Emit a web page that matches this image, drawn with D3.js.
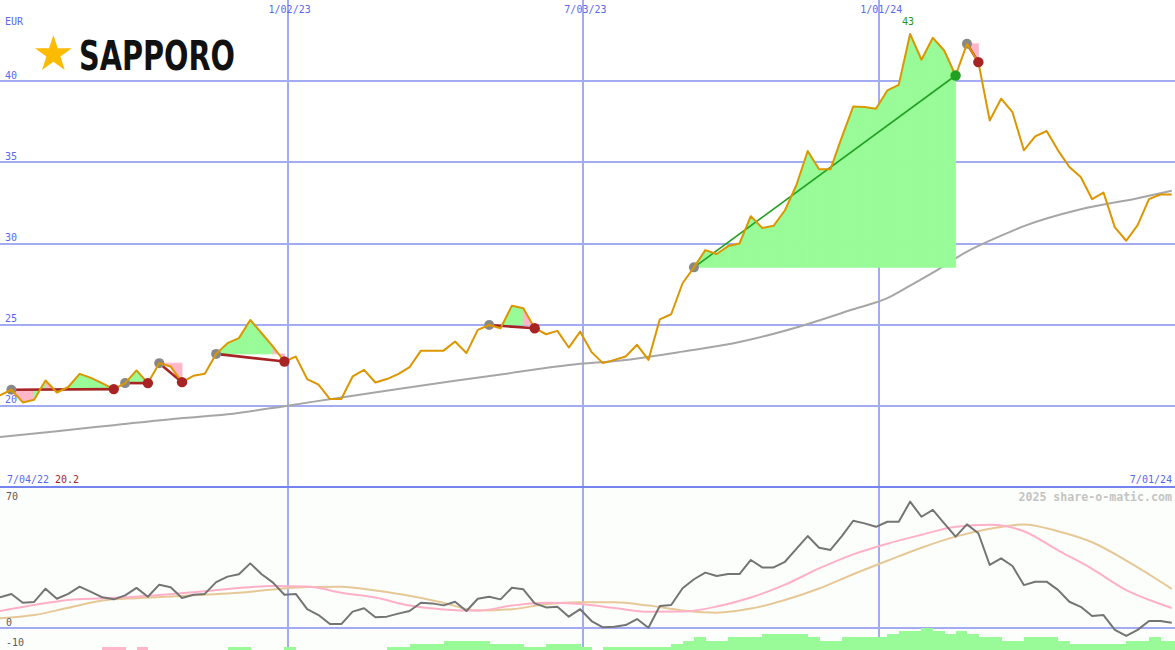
<!DOCTYPE html>
<html><head><meta charset="utf-8">
<script src="https://cdn.jsdelivr.net/npm/d3@7"></script>
<style>
html,body{margin:0;padding:0;background:#fff;}
svg{display:block;}
</style></head><body>
<svg id="chart" width="1175" height="650"></svg>
<script>
// ---------- data ----------
const currency = "EUR";
const companyName = "SAPPORO";
const watermark = "2025 share-o-matic.com";
const firstWeek = "2022-07-09";
const domainStart = "2022-07-09";
const domainEnd = "2024-07-01";
const rangeLabels = ["7/04/22", "7/01/24"];
const gridDates = ["2023-01-02", "2023-07-03", "2024-01-01"];
const gridLabels = ["1/02/23", "7/03/23", "1/01/24"];
const priceTicks = [20, 25, 30, 35, 40];
const oscTickLabels = [70, 0, -10];

// weekly closing prices (EUR)
const prices = [
  20.64, 20.99, 20.21, 20.37, 21.56, 20.82, 21.16, 21.97, 21.72, 21.38,
  21.03, 21.40, 22.18, 21.40, 22.63, 22.42, 21.46, 21.85, 21.97, 23.20,
  23.86, 24.17, 25.29, 24.47, 23.65, 22.73, 23.03, 21.65, 21.30, 20.42,
  20.42, 21.81, 22.22, 21.44, 21.65, 21.95, 22.38, 23.40, 23.40, 23.40,
  23.96, 23.25, 24.68, 24.98, 24.78, 26.17, 26.01, 24.78, 24.41, 24.62,
  23.59, 24.57, 23.31, 22.63, 22.83, 23.04, 23.76, 22.83, 25.33, 25.64,
  27.55, 28.53, 29.59, 29.35, 29.84, 30.00, 31.68, 30.96, 31.09, 32.05,
  33.59, 35.70, 34.57, 34.57, 36.55, 38.44, 38.41, 38.30, 39.43, 39.77,
  42.91, 41.32, 42.67, 41.89, 40.35, 42.30, 41.17, 37.58, 38.92, 38.09,
  35.74, 36.60, 36.93, 35.74, 34.71, 34.10, 32.73, 33.14, 30.99, 30.17,
  31.13, 32.73, 33.02, 33.02
];

// long moving average (grey)
const maWeeks  = [0, 5, 10, 15, 20, 25, 30, 35, 40, 45, 50, 55, 60, 65, 70, 75, 78, 80, 82, 85, 88, 90, 95, 100, 103];
const maValues = [18.08, 18.44, 18.81, 19.18, 19.48, 19.98, 20.52, 21.03, 21.54, 22.03, 22.51, 22.83, 23.34, 23.93, 24.83, 25.95, 26.63, 27.4, 28.2, 29.5, 30.48, 31.07, 32.11, 32.79, 33.25];

// trades
const tradeEntries = [1, 11, 14, 19, 43, 61, 85];
const tradeExits   = [10, 13, 16, 25, 47, 84, 86];
const tradeResults = ["loss", "loss", "loss", "loss", "loss", "win", "loss"];

// lower panel: momentum (dark grey), weekly
const momentum = [
  15.1, 16.8, 12.4, 12.8, 19.4, 14.4, 16.8, 20.4, 17.8, 15.1,
  14.1, 16.1, 19.8, 15.4, 21.4, 20.1, 14.8, 16.4, 16.8, 22.7,
  25.4, 26.6, 32.0, 26.6, 22.4, 16.4, 16.8, 9.2, 6.3, 1.8,
  1.8, 8.0, 9.7, 5.2, 5.5, 7.0, 8.3, 12.4, 12.1, 11.1,
  12.9, 8.3, 14.4, 15.4, 14.1, 19.9, 19.1, 12.1, 10.1, 10.4,
  5.5, 9.2, 3.3, 0.2, 0.5, 1.3, 4.3, 0.0, 10.8, 11.3,
  19.6, 24.1, 27.4, 25.7, 26.7, 26.7, 33.7, 30.0, 30.0, 32.8,
  39.2, 45.6, 39.8, 38.7, 45.6, 53.2, 51.9, 50.2, 52.7, 52.7,
  62.7, 55.2, 58.6, 51.9, 45.3, 51.4, 47.0, 31.2, 34.5, 30.7,
  21.2, 22.9, 22.9, 18.8, 12.9, 10.4, 5.8, 6.3, -1.1, -4.1,
  -1.1, 3.3, 3.3, 2.5
];

// lower panel: signal lines (sampled every 3 weeks)
const signalWeeks = [0, 3, 6, 9, 12, 15, 18, 21, 24, 27, 30, 33, 36, 39, 42, 45, 48, 51, 54, 57, 60, 63, 66, 69, 72, 75, 78, 81, 84, 87, 90, 93, 96, 99, 102, 103];
const fastSignal = [8.3, 11.3, 13.8, 14.6, 15.4, 16.7, 18.1, 19.8, 20.7, 20.5, 17.4, 15.0, 11.0, 9.1, 8.5, 11.0, 12.4, 11.8, 9.8, 7.9, 8.0, 10.5, 15.0, 21.4, 29.5, 36.5, 41.8, 46.2, 50.2, 51.2, 48.0, 38.5, 29.3, 18.7, 11.8, 9.8];
const slowSignal = [4.7, 6.3, 9.9, 13.5, 14.7, 15.5, 16.4, 17.4, 19.0, 20.2, 20.4, 18.5, 15.9, 12.3, 8.5, 9.2, 11.7, 12.6, 12.6, 11.0, 8.6, 7.5, 9.5, 13.8, 19.5, 26.6, 33.3, 39.8, 45.3, 49.2, 51.4, 48.0, 42.5, 33.4, 23.0, 19.3];

// bottom histogram levels (negative = pink)
const histLevels = [
  0, 0, 0, 0, 0, 0, 0, 0, 0, -1,
  -1, 0, -1, 0, 0, 0, 0, 0, 0, 0,
  1, 1, 0, 0, 0, 1, 0, 0, 0, 0,
  0, 0, 0, 0, 1, 1, 2, 2, 2, 3,
  3, 3, 3, 2, 2, 2, 1, 1, 2, 2,
  2, 1, 0, 1, 1, 1, 1, 1, 1, 2,
  3, 4, 3, 3, 4, 4, 4, 5, 5, 5,
  5, 4, 3, 3, 4, 4, 4, 4, 5, 6,
  6, 7, 6, 5, 6, 5, 4, 4, 3, 3,
  4, 4, 4, 3, 2, 2, 2, 2, 2, 3,
  3, 4, 3, 3
];

// ---------- drawing ----------
const W = 1175, H = 650;
const parse = d3.timeParse("%Y-%m-%d");
const week0 = parse(firstWeek);
const weekDate = i => d3.timeDay.offset(week0, 7 * i);

const x = d3.scaleTime().domain([parse(domainStart), parse(domainEnd)]).range([0, W]);
const yP = d3.scaleLinear().domain([15, 45]).range([487, 0]);
const yO = d3.scaleLinear().domain([0, 70]).range([627.7, 487]);
const yH = d3.scaleLinear().domain([0, 7]).range([650, 628]);

const svg = d3.select("#chart");
const MONO = "'DejaVu Sans Mono', 'Liberation Mono', monospace";
const GRID = "#a3acf2", LABEL = "#5a68f0";
const GREEN_FILL = "#98fb98", PINK_FILL = "#ffb6c8";
const LOSS = "#a82424", WIN = "#22a022";

svg.append("rect").attr("width", W).attr("height", H).attr("fill", "#ffffff");
svg.append("rect").attr("y", 487).attr("width", W).attr("height", H - 487).attr("fill", "#fcfefc");

// horizontal price grid
const pg = svg.append("g");
pg.selectAll("line").data(priceTicks).join("line")
  .attr("x1", 0).attr("x2", W)
  .attr("y1", d => Math.round(yP(d))).attr("y2", d => Math.round(yP(d)))
  .attr("stroke", GRID).attr("stroke-width", 2).attr("shape-rendering", "crispEdges");
pg.selectAll("text").data(priceTicks).join("text")
  .attr("x", 5).attr("y", d => yP(d) - 2.5)
  .attr("font-family", MONO).attr("font-size", 10).attr("fill", LABEL)
  .text(d => d);

// vertical date grid
const vg = svg.append("g");
const gd = gridDates.map(parse);
vg.selectAll("line").data(gd).join("line")
  .attr("x1", d => Math.round(x(d))).attr("x2", d => Math.round(x(d)))
  .attr("y1", 0).attr("y2", H)
  .attr("stroke", GRID).attr("stroke-width", 1.5).attr("shape-rendering", "crispEdges");
vg.selectAll("text").data(gd).join("text")
  .attr("x", d => x(d) + 2).attr("y", 12.5).attr("text-anchor", "middle")
  .attr("font-family", MONO).attr("font-size", 10).attr("fill", LABEL)
  .text((d, i) => gridLabels[i]);

svg.append("text").attr("x", 5).attr("y", 24.5)
  .attr("font-family", MONO).attr("font-size", 10).attr("fill", LABEL).text(currency);

// long MA
const maLine = d3.line().x((d, i) => x(weekDate(maWeeks[i]))).y(d => yP(d)).curve(d3.curveMonotoneX);
svg.append("path").datum(maValues).attr("d", maLine)
  .attr("fill", "none").attr("stroke", "#a6a6a6").attr("stroke-width", 2);

// trade fills
const fillG = svg.append("g");
const polyLine = d3.line();
tradeEntries.forEach((s, t) => {
  const e = prices[s];
  for (let i = s; i < tradeExits[t]; i++) {
    const pts = [
      [x(weekDate(i)), yP(prices[i])],
      [x(weekDate(i + 1)), yP(prices[i + 1])],
      [x(weekDate(i + 1)), yP(e)],
      [x(weekDate(i)), yP(e)]
    ];
    const c = prices[i + 1] >= e ? GREEN_FILL : PINK_FILL;
    fillG.append("path").attr("d", polyLine(pts) + "Z")
      .attr("fill", c).attr("stroke", c).attr("stroke-width", 0.8);
  }
});

// trade lines
svg.append("g").selectAll("line").data(tradeEntries).join("line")
  .attr("x1", d => x(weekDate(d))).attr("y1", d => yP(prices[d]))
  .attr("x2", (d, i) => x(weekDate(tradeExits[i]))).attr("y2", (d, i) => yP(prices[tradeExits[i]]))
  .attr("stroke", (d, i) => tradeResults[i] === "win" ? WIN : LOSS)
  .attr("stroke-width", (d, i) => tradeResults[i] === "win" ? 1.6 : 2.6);

// entry dots
svg.append("g").selectAll("circle").data(tradeEntries).join("circle")
  .attr("cx", d => x(weekDate(d))).attr("cy", d => yP(prices[d])).attr("r", 5)
  .attr("fill", "#888888");

// price line
const priceLine = d3.line().x((d, i) => x(weekDate(i))).y(d => yP(d));
svg.append("path").datum(prices).attr("d", priceLine)
  .attr("fill", "none").attr("stroke", "#dc9600").attr("stroke-width", 2).attr("stroke-linejoin", "round");

// exit dots
svg.append("g").selectAll("circle").data(tradeExits).join("circle")
  .attr("cx", d => x(weekDate(d))).attr("cy", d => yP(prices[d])).attr("r", 5.2)
  .attr("fill", (d, i) => tradeResults[i] === "win" ? WIN : LOSS);

// max / min labels
const maxI = d3.maxIndex(prices), minI = d3.minIndex(prices);
svg.append("text").attr("x", x(weekDate(maxI)) - 2).attr("y", yP(prices[maxI]) - 8.5)
  .attr("text-anchor", "middle").attr("font-family", MONO).attr("font-size", 10)
  .attr("fill", "#229922").text(d3.format(".0f")(prices[maxI]));

svg.append("text").attr("x", 7).attr("y", 483)
  .attr("font-family", MONO).attr("font-size", 10).attr("fill", LABEL).text(rangeLabels[0]);
svg.append("text").attr("x", 55).attr("y", 483)
  .attr("font-family", MONO).attr("font-size", 10).attr("fill", LOSS).text(d3.format(".1f")(prices[minI]));
svg.append("text").attr("x", 1172).attr("y", 483).attr("text-anchor", "end")
  .attr("font-family", MONO).attr("font-size", 10).attr("fill", LABEL).text(rangeLabels[1]);

// logo
const starPts = d3.range(10).map(k => {
  const a = -Math.PI / 2 + k * Math.PI / 5, r = k % 2 ? 7.4 : 19.3;
  return [53.4 + r * Math.cos(a), 54.3 + r * Math.sin(a)];
});
svg.append("path").attr("d", d3.line()(starPts) + "Z").attr("fill", "#fdbb00");
svg.append("text").attr("x", 79).attr("y", 70)
  .attr("font-family", "'Liberation Sans Narrow','DejaVu Sans Condensed','Liberation Sans',Arial,sans-serif")
  .attr("font-weight", "bold").attr("font-size", 41)
  .attr("textLength", 156).attr("lengthAdjust", "spacingAndGlyphs")
  .attr("fill", "#111111").text(companyName);

// ---------- lower panel ----------
svg.append("line").attr("x1", 0).attr("x2", W).attr("y1", 487).attr("y2", 487)
  .attr("stroke", "#7583f0").attr("stroke-width", 2.5).attr("shape-rendering", "crispEdges");
svg.append("line").attr("x1", 0).attr("x2", W).attr("y1", Math.round(yO(0))).attr("y2", Math.round(yO(0)))
  .attr("stroke", GRID).attr("stroke-width", 2).attr("shape-rendering", "crispEdges");

// histogram
svg.append("g").selectAll("rect").data(histLevels).join("rect")
  .attr("x", (d, i) => x(weekDate(i)))
  .attr("width", (d, i) => x(weekDate(i + 1)) - x(weekDate(i)) + 0.5)
  .attr("y", d => yH(Math.abs(d)))
  .attr("height", d => yH(0) - yH(Math.abs(d)))
  .attr("fill", d => d < 0 ? PINK_FILL : GREEN_FILL)
  .attr("shape-rendering", "crispEdges");

const sigLine = d3.line().x((d, i) => x(weekDate(signalWeeks[i]))).y(d => yO(d)).curve(d3.curveMonotoneX);
svg.append("path").datum(slowSignal).attr("d", sigLine)
  .attr("fill", "none").attr("stroke", "#e6c896").attr("stroke-width", 2);
svg.append("path").datum(fastSignal).attr("d", sigLine)
  .attr("fill", "none").attr("stroke", "#ffb0c8").attr("stroke-width", 2);
const momLine = d3.line().x((d, i) => x(weekDate(i))).y(d => yO(d));
svg.append("path").datum(momentum).attr("d", momLine)
  .attr("fill", "none").attr("stroke", "#747474").attr("stroke-width", 2).attr("stroke-linejoin", "round");

// lower labels
svg.append("g").selectAll("text").data(oscTickLabels).join("text")
  .attr("x", 6).attr("y", d => Math.max(500, Math.min(yO(d) - 2, 645.7)))
  .attr("font-family", MONO).attr("font-size", 10).attr("fill", "#5a5a5a")
  .text(d => d);

svg.append("text").attr("x", 1172).attr("y", 500.5).attr("text-anchor", "end")
  .attr("font-family", MONO).attr("font-size", 11.6).attr("font-weight", "bold")
  .attr("fill", "#c4c4c4").text(watermark);
</script>
</body></html>
